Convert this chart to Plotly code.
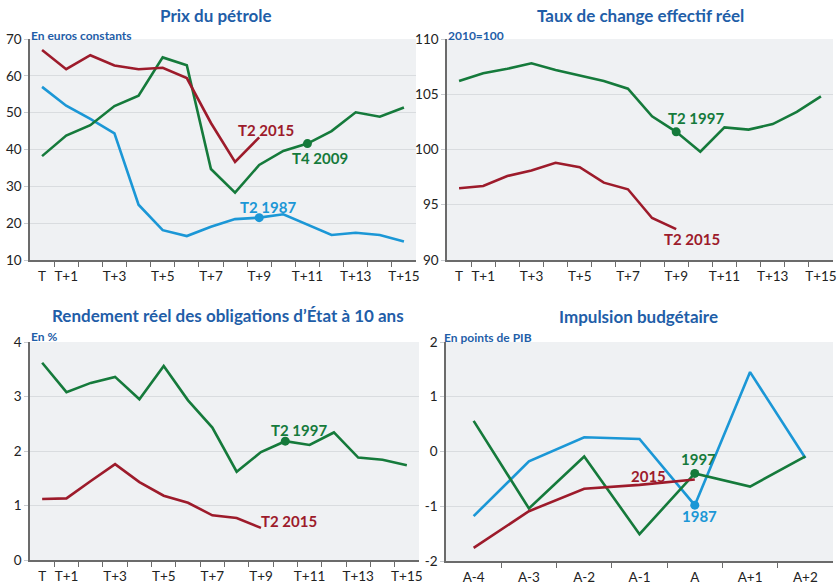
import plotly.graph_objects as go

W, H = 840, 586

# ---------- data ----------
t_labels = ["T"] + [f"T+{i}" for i in range(1, 16)]
t_shown = [0, 1, 3, 5, 7, 9, 11, 13, 15]

oil_2015 = [67.0, 61.8, 65.6, 62.8, 61.8, 62.2, 59.4, 47.2, 36.6, 43.3]
oil_2009 = [38.2, 43.8, 46.6, 51.8, 54.6, 65.0, 62.9, 34.7, 28.3, 35.8, 39.6, 41.6, 45.0, 50.1, 48.9, 51.4]
oil_1987 = [57.0, 51.9, 48.3, 44.4, 25.0, 18.1, 16.5, 19.0, 21.1, 21.5, 22.4, 19.6, 16.8, 17.4, 16.8, 15.0]

tce_1997 = [106.2, 106.9, 107.3, 107.8, 107.2, 106.7, 106.2, 105.5, 103.0, 101.6, 99.8, 102.0, 101.8, 102.3, 103.4, 104.8]
tce_2015 = [96.5, 96.7, 97.6, 98.1, 98.8, 98.4, 97.0, 96.4, 93.8, 92.8]

bond_1997 = [3.62, 3.08, 3.25, 3.36, 2.95, 3.56, 2.93, 2.43, 1.62, 1.98, 2.18, 2.11, 2.34, 1.88, 1.84, 1.74]
bond_2015 = [1.12, 1.13, 1.45, 1.76, 1.43, 1.18, 1.05, 0.82, 0.77, 0.59]

a_labels = ["A-4", "A-3", "A-2", "A-1", "A", "A+1", "A+2"]
fisc_1987 = [-1.18, -0.18, 0.26, 0.23, -0.98, 1.45, -0.12]
fisc_1997 = [0.56, -1.04, -0.09, -1.51, -0.40, -0.64, -0.09]
fisc_2015 = [-1.76, -1.09, -0.68, -0.61, -0.51]
fisc_ticks = [-2, -1, 0, 1, 2]
fisc_ticktext = ["-2", "-1", "0", "1", "2"]

# ---------- style ----------
RED = "#9d1b2b"
GREEN = "#157a3b"
BLUE = "#1b97d6"
TITLE = "#1f5ea8"
BG = "#eff1f3"
GRID = "#d9dcdf"
AXIS = "#6b6b6b"
TXT = "#222222"
FONT = "Lato"

fig = go.Figure()


def px_dom_x(a, b):
    return [a / W, b / W]


def px_dom_y(top, bottom):
    return [1 - bottom / H, 1 - top / H]


def add_line(vals, color, xa, ya):
    xs = list(range(len(vals)))
    fig.add_trace(go.Scatter(x=xs, y=vals, mode="lines", line=dict(color=color, width=2.6),
                             xaxis=xa, yaxis=ya, hoverinfo="skip", showlegend=False))


def add_dot(vals, idx, color, xa, ya):
    fig.add_trace(go.Scatter(x=[idx], y=[vals[idx]], mode="markers",
                             marker=dict(color=color, size=9),
                             xaxis=xa, yaxis=ya, hoverinfo="skip", showlegend=False))


# panel 1
add_line(oil_1987, BLUE, "x", "y")
add_line(oil_2009, GREEN, "x", "y")
add_line(oil_2015, RED, "x", "y")
add_dot(oil_2009, 11, GREEN, "x", "y")
add_dot(oil_1987, 9, BLUE, "x", "y")
# panel 2
add_line(tce_1997, GREEN, "x2", "y2")
add_line(tce_2015, RED, "x2", "y2")
add_dot(tce_1997, 9, GREEN, "x2", "y2")
# panel 3
add_line(bond_1997, GREEN, "x3", "y3")
add_line(bond_2015, RED, "x3", "y3")
add_dot(bond_1997, 10, GREEN, "x3", "y3")
# panel 4
add_line(fisc_1987, BLUE, "x4", "y4")
add_line(fisc_1997, GREEN, "x4", "y4")
add_line(fisc_2015, RED, "x4", "y4")
add_dot(fisc_1997, 4, GREEN, "x4", "y4")
add_dot(fisc_1987, 4, BLUE, "x4", "y4")


def xaxis_cfg(domain, n, shown, labels):
    return dict(domain=domain, range=[-0.5, n - 0.5], tickmode="array",
                tickvals=shown, ticktext=[labels[i] for i in shown],
                ticks="", showgrid=False, zeroline=False, showline=True,
                linecolor=AXIS, linewidth=1.5, ticklabelstandoff=3, automargin=False,
                tickfont=dict(family=FONT, size=13.5, color=TXT),
                minor=dict(tickmode="array", tickvals=[i + 0.5 for i in range(n - 1)],
                           ticks="outside", ticklen=5, tickcolor=AXIS, tickwidth=1, showgrid=False),
                fixedrange=True)


def yaxis_cfg(domain, anchor, rng, dtick):
    return dict(domain=domain, anchor=anchor, range=rng, dtick=dtick, tick0=rng[0],
                showgrid=True, gridcolor=GRID, gridwidth=1, zeroline=False, automargin=False,
                showline=True, linecolor=AXIS, linewidth=1.5,
                ticks="outside", ticklen=4, tickcolor="#c9ccd0", tickwidth=1,
                tickfont=dict(family=FONT, size=13.5, color=TXT), fixedrange=True)


top_y = px_dom_y(39, 260)
bot_y = px_dom_y(342, 560)

y4 = yaxis_cfg(px_dom_y(342, 561), "x4", [-2, 2], 1)
y4.update(tickmode="array", tickvals=fisc_ticks, ticktext=fisc_ticktext)

fig.update_layout(
    xaxis=dict(xaxis_cfg(px_dom_x(30, 416), 16, t_shown, t_labels), anchor="y"),
    yaxis=yaxis_cfg(top_y, "x", [10, 70], 10),
    xaxis2=dict(xaxis_cfg(px_dom_x(447, 833), 16, t_shown, t_labels), anchor="y2"),
    yaxis2=yaxis_cfg(top_y, "x2", [90, 110], 5),
    xaxis3=dict(xaxis_cfg(px_dom_x(30, 419), 16, t_shown, t_labels), anchor="y3"),
    yaxis3=yaxis_cfg(bot_y, "x3", [0, 4], 1),
    xaxis4=dict(xaxis_cfg(px_dom_x(446, 833), 7, list(range(7)), a_labels), anchor="y4"),
    yaxis4=y4,
)

# plot backgrounds
for xr, yr in [("x", "y"), ("x2", "y2"), ("x3", "y3"), ("x4", "y4")]:
    fig.add_shape(type="rect", xref=f"{xr} domain", yref=f"{yr} domain",
                  x0=0, x1=1, y0=0, y1=1, fillcolor=BG, line=dict(width=0), layer="below")

ann = []


def title(text, xc, yc, size=17):
    ann.append(dict(text=f"<b>{text}</b>", x=xc / W, y=1 - yc / H, xref="paper", yref="paper",
                    showarrow=False, xanchor="center", yanchor="middle",
                    font=dict(family=FONT, size=size, color=TITLE)))


def sub(text, xl, yc):
    ann.append(dict(text=f"<b>{text}</b>", x=xl / W, y=1 - yc / H, xref="paper", yref="paper",
                    showarrow=False, xanchor="left", yanchor="middle",
                    font=dict(family=FONT, size=12, color=TITLE)))


def lab(text, x, y, xa, ya, color):
    ann.append(dict(text=f"<b>{text}</b>", x=x, y=y, xref=xa, yref=ya, showarrow=False,
                    xanchor="center", yanchor="middle",
                    font=dict(family=FONT, size=15, color=color)))


title("Prix du pétrole", 216, 15)
title("Taux de change effectif réel", 640, 15)
title("Rendement réel des obligations d’État à 10 ans", 228, 315)
title("Impulsion budgétaire", 638, 316)
sub("En euros constants", 29, 35)
sub("2010=100", 446, 35)
sub("En %", 29, 336)
sub("En points de PIB", 442, 337)

lab("T2 2015", 9.3, 45.3, "x", "y", RED)
lab("T4 2009", 11.5, 37.7, "x", "y", GREEN)
lab("T2 1987", 9.38, 24.4, "x", "y", BLUE)
lab("T2 1997", 9.83, 102.85, "x2", "y2", GREEN)
lab("T2 2015", 9.67, 91.9, "x2", "y2", RED)
lab("T2 1997", 10.58, 2.39, "x3", "y3", GREEN)
lab("T2 2015", 10.16, 0.72, "x3", "y3", RED)
lab("1997", 4.06, -0.14, "x4", "y4", GREEN)
lab("2015", 3.17, -0.45, "x4", "y4", RED)
lab("1987", 4.08, -1.18, "x4", "y4", BLUE)

fig.update_layout(annotations=ann, width=W, height=H, margin=dict(l=0, r=0, t=0, b=0, pad=0),
                  autosize=False,
                  paper_bgcolor="white", plot_bgcolor="rgba(0,0,0,0)", showlegend=False)

fig.write_html("out.html", config={"displayModeBar": False, "responsive": False},
               post_script="document.body.style.margin='0';document.body.style.padding='0';"
                           "document.documentElement.style.overflow='hidden';")
